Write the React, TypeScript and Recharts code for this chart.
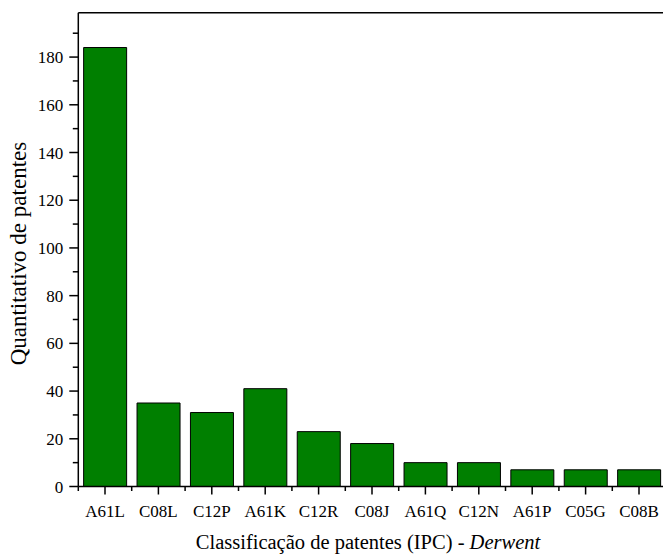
import React from 'react';
import { BarChart, Bar, XAxis, YAxis, ReferenceLine, Label } from 'recharts';

const categories = ['A61L', 'C08L', 'C12P', 'A61K', 'C12R', 'C08J', 'A61Q', 'C12N', 'A61P', 'C05G', 'C08B'];
const counts = [184, 35, 31, 41, 23, 18, 10, 10, 7, 7, 7];
const yTicks = [0, 10, 20, 30, 40, 50, 60, 70, 80, 90, 100, 110, 120, 130, 140, 150, 160, 170, 180, 190];
const yMax = 198.6;

const data = categories.map((c, i) => ({ name: c, value: counts[i] }));

const CHART_W = 690;
const CHART_H = 556;
const M = { top: 12.7, right: 24.3, bottom: 0, left: 0 };
const Y_AXIS_W = 78.3;
const X_AXIS_H = 69.5;
const PLOT_W = CHART_W - M.left - M.right - Y_AXIS_W;
const BAND = PLOT_W / categories.length;
const FONT = '"Liberation Serif", "Times New Roman", serif';

const YTick = (props: any) => {
  const { x, y, payload } = props;
  const major = payload.value % 20 === 0;
  const len = major ? 9 : 5.5;
  return (
    <g>
      <line x1={x - len} x2={x} y1={y} y2={y} stroke="#000" strokeWidth={1.5} />
      {major && (
        <text x={x - 15} y={y + 6} textAnchor="end" fontFamily={FONT} fontSize={17} fill="#000">
          {payload.value}
        </text>
      )}
    </g>
  );
};

const XTick = (props: any) => {
  const { x, y, payload, index } = props;
  const isLast = index === categories.length - 1;
  return (
    <g>
      <line x1={x} x2={x} y1={y} y2={y + 8} stroke="#000" strokeWidth={1.5} />
      <line x1={x - BAND / 2} x2={x - BAND / 2} y1={y} y2={y + 4.5} stroke="#000" strokeWidth={1.5} />
      {isLast && <line x1={x + BAND / 2} x2={x + BAND / 2} y1={y} y2={y + 4.5} stroke="#000" strokeWidth={1.5} />}
      <text x={x} y={y + 30.5} textAnchor="middle" fontFamily={FONT} fontSize={17} fill="#000">
        {payload.value}
      </text>
    </g>
  );
};

const XTitle = (props: any) => {
  const vb = props.viewBox;
  const cx = vb.x + vb.width / 2 - 4;
  return (
    <text x={cx} y={vb.y + 62.5} textAnchor="middle" fontFamily={FONT} fontSize={20.5} fill="#000">
      Classificação de patentes (IPC) - <tspan fontStyle="italic">Derwent</tspan>
    </text>
  );
};

const YTitle = (props: any) => {
  const vb = props.viewBox;
  const cy = vb.y + vb.height / 2 + 4;
  const cx = 26;
  return (
    <text x={cx} y={cy} transform={`rotate(-90, ${cx}, ${cy})`} textAnchor="middle" fontFamily={FONT} fontSize={23} fill="#000">
      Quantitativo de patentes
    </text>
  );
};

export default function App() {
  return (
    <div style={{ position: 'absolute', left: 0, top: 0, width: 663, height: 556, overflow: 'hidden', background: '#fff' }}>
      <BarChart width={CHART_W} height={CHART_H} data={data} margin={M} barCategoryGap="10%">
        <XAxis
          dataKey="name"
          height={X_AXIS_H}
          tickSize={0}
          tickMargin={0}
          tickLine={false}
          tick={<XTick />}
          interval={0}
          axisLine={{ stroke: '#000', strokeWidth: 1.5 }}
        >
          <Label content={<XTitle />} />
        </XAxis>
        <YAxis
          width={Y_AXIS_W}
          domain={[0, yMax]}
          ticks={yTicks}
          type="number"
          allowDataOverflow
          tickSize={0}
          tickMargin={0}
          tickLine={false}
          tick={<YTick />}
          interval={0}
          axisLine={{ stroke: '#000', strokeWidth: 1.5 }}
        >
          <Label content={<YTitle />} />
        </YAxis>
        <ReferenceLine y={yMax} stroke="#000" strokeWidth={1.5} />
        <Bar dataKey="value" fill="#007F00" stroke="#000" strokeWidth={1} isAnimationActive={false} />
      </BarChart>
    </div>
  );
}
